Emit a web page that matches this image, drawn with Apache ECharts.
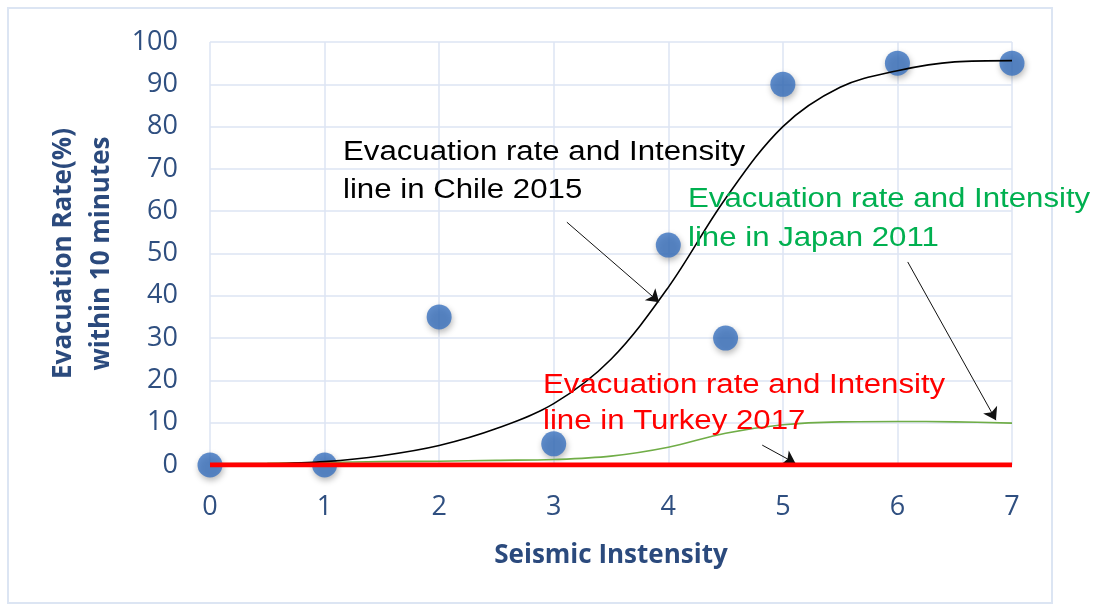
<!DOCTYPE html>
<html>
<head>
<meta charset="utf-8">
<script src="https://cdn.jsdelivr.net/npm/echarts@6/dist/echarts.min.js"></script>
<style>
  html, body { margin: 0; padding: 0; background: #ffffff; }
  #chart { width: 1096px; height: 606px; }
</style>
</head>
<body>
<div id="chart"></div>
<script>
// Observed evacuation rate points (seismic intensity, % evacuated within 10 minutes)
const obsIntensity = [0, 1, 2, 3, 4, 4.5, 5, 6, 7];
const obsRate      = [0, 0, 35, 5, 52, 30, 90, 95, 95];

// Fitted lines
const lineIntensity = [0, 0.5, 1, 1.5, 2, 2.5, 3, 3.5, 4, 4.5, 5, 5.5, 6, 6.5, 7];
const chileRate  = [0, 0.2, 0.8, 2.2, 4.6, 8.6, 14.5, 25, 42, 63, 80, 89.3, 93.2, 95.3, 95.6];
const japanRate  = [0.3, 0.4, 0.6, 0.8, 0.9, 1.1, 1.3, 2.1, 4.2, 7.5, 9.5, 10.2, 10.3, 10.2, 9.9];
const turkeyIntensity = [0, 7];
const turkeyRate = [0, 0];

const yTicks = [0, 10, 20, 30, 40, 50, 60, 70, 80, 90, 100];
const xTicks = [0, 1, 2, 3, 4, 5, 6, 7];

const chileLabel  = ['Evacuation rate and Intensity', 'line in Chile 2015'];
const japanLabel  = ['Evacuation rate and Intensity', 'line in Japan 2011'];
const turkeyLabel = ['Evacuation rate and Intensity', 'line in Turkey 2017'];

const pairs = (xs, ys) => xs.map((x, i) => [x, ys[i]]);

const chart = echarts.init(document.getElementById('chart'), null, { renderer: 'canvas' });

const axisColor = '#2F4F80';
const gridColor = '#DCE5F3';
const annFont = '"Liberation Sans", Arial, sans-serif';
const annSize = 27;
const annScale = 1.155;

function annText(lines, x, y1, y2, color) {
  return [
    { type: 'text', x: x, y: y1, scaleX: annScale, z: 100,
      style: { text: lines[0], fill: color, fontSize: annSize, fontFamily: annFont, align: 'left', verticalAlign: 'middle' } },
    { type: 'text', x: x, y: y2, scaleX: annScale, z: 100,
      style: { text: lines[1], fill: color, fontSize: annSize, fontFamily: annFont, align: 'left', verticalAlign: 'middle' } }
  ];
}

const arrowLine = (from, to) => ({
  symbol: ['none', 'arrow'],
  symbolSize: 12,
  silent: true,
  animation: false,
  label: { show: false },
  itemStyle: { color: '#111' },
  lineStyle: { color: '#111', width: 1, type: 'solid' },
  emphasis: { disabled: true },
  data: [[{ coord: from }, { coord: to }]]
});

const option = {
  animation: false,
  backgroundColor: '#ffffff',
  grid: { left: 210, right: 84, top: 42, bottom: 141 },
  xAxis: {
    type: 'value',
    min: 0, max: 7, interval: 1,
    name: 'Seismic Instensity',
    nameLocation: 'middle',
    nameGap: 78,
    nameTextStyle: { color: '#2B4A7D', fontSize: 26, fontWeight: 'bold', fontFamily: '"Open Sans", sans-serif' },
    axisLine: { show: false },
    axisTick: { show: false },
    axisLabel: {
      color: axisColor, fontSize: 27, fontFamily: '"Open Sans", sans-serif', margin: 29,
      formatter: v => (xTicks.indexOf(v) >= 0 ? String(v) : '')
    },
    splitLine: { show: true, lineStyle: { color: gridColor, width: 1.5 } }
  },
  yAxis: {
    type: 'value',
    min: 0, max: 100, interval: 10,
    name: 'Evacuation Rate(%)\nwithin 10 minutes',
    nameLocation: 'middle',
    nameGap: 82,
    nameRotate: 90,
    nameTextStyle: { color: '#2B4A7D', fontSize: 26, fontWeight: 'bold', fontFamily: '"Open Sans", sans-serif', lineHeight: 38 },
    axisLine: { show: false },
    axisTick: { show: false },
    axisLabel: {
      color: axisColor, fontSize: 27, fontFamily: '"Open Sans", sans-serif', margin: 32,
      formatter: v => (yTicks.indexOf(v) >= 0 ? String(v) : '')
    },
    splitLine: { show: true, lineStyle: { color: gridColor, width: 1.5 } }
  },
  series: [
    {
      name: 'Observed',
      type: 'scatter',
      z: 1,
      symbol: 'circle',
      symbolSize: 25,
      itemStyle: {
        color: '#3A72BF',
        shadowBlur: 6,
        shadowColor: 'rgba(0,0,0,0.35)',
        shadowOffsetX: 1,
        shadowOffsetY: 3
      },
      data: pairs(obsIntensity, obsRate)
    },
    {
      name: 'Japan 2011',
      type: 'line',
      z: 3,
      smooth: 0.35,
      showSymbol: false,
      lineStyle: { color: '#70AD47', width: 1.6 },
      data: pairs(lineIntensity, japanRate),
      markLine: arrowLine([6.09, 48], [6.86, 10.6])
    },
    {
      name: 'Chile 2015',
      type: 'line',
      z: 4,
      smooth: 0.35,
      showSymbol: false,
      lineStyle: { color: '#000000', width: 1.6 },
      data: pairs(lineIntensity, chileRate),
      markLine: arrowLine([3.115, 57.4], [3.92, 38.5])
    },
    {
      name: 'Turkey 2017',
      type: 'line',
      z: 5,
      showSymbol: false,
      lineStyle: { color: '#FF0000', width: 5 },
      data: pairs(turkeyIntensity, turkeyRate),
      markLine: arrowLine([4.82, 4.7], [5.11, 0.4])
    }
  ],
  graphic: [
    { type: 'rect', z: -10, silent: true,
      shape: { x: 8, y: 8, width: 1044, height: 595 },
      style: { fill: 'none', stroke: '#DCE5F3', lineWidth: 2 } }
  ]
    .concat(annText(chileLabel, 343, 153, 191, '#000000'))
    .concat(annText(japanLabel, 688, 200, 239, '#00B050'))
    .concat(annText(turkeyLabel, 543, 386, 422, '#FF0000'))
};

chart.setOption(option);
</script>
</body>
</html>
